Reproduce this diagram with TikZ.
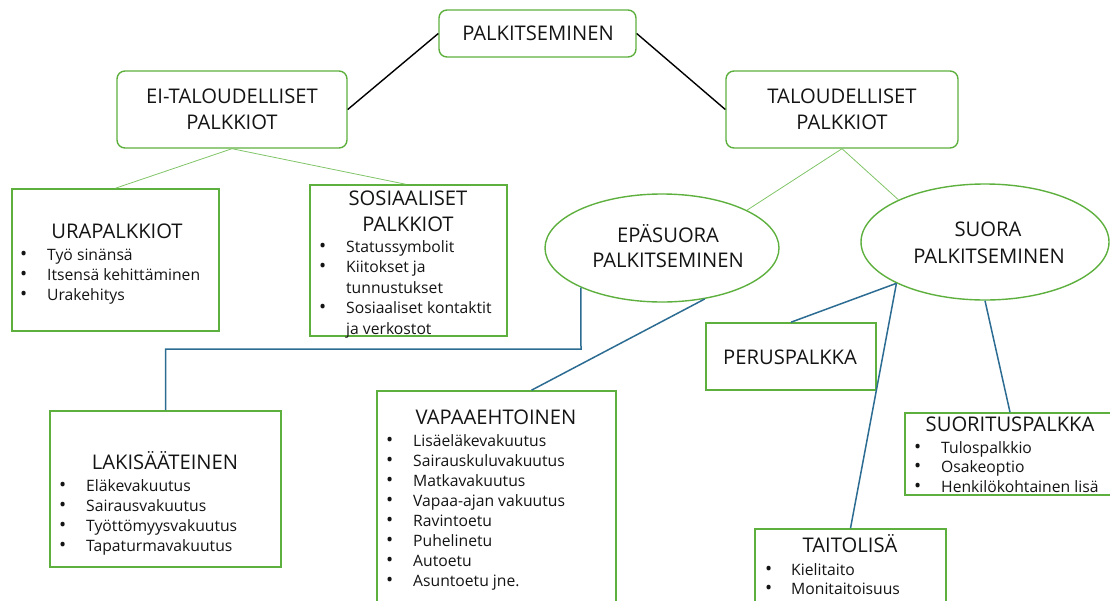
\documentclass[tikz,border=0pt]{standalone}
\usepackage{fontspec}
\setmainfont{Open Sans}
\usetikzlibrary{shapes.geometric,calc}

\definecolor{boxgreen}{RGB}{94,176,62}
\definecolor{linkgreen}{RGB}{128,196,104}
\definecolor{linkblue}{RGB}{44,108,146}

\tikzset{
  roundbox/.style={draw=boxgreen, line width=1.4pt, rounded corners=8pt, inner sep=0pt},
  plainbox/.style={draw=boxgreen, line width=1.6pt, inner sep=0pt},
  oval/.style={ellipse, draw=boxgreen, line width=1.4pt, inner sep=0pt},
  head/.style={anchor=base, inner sep=0pt, font=\fontsize{20.2}{24}\selectfont, text=black!92},
  item/.style={anchor=base west, inner sep=0pt, font=\fontsize{15.7}{19}\selectfont, text=black!92},
  dot/.style={anchor=base west, inner sep=0pt, font=\fontsize{19}{19}\selectfont, text=black!92},
  mainlink/.style={draw=black, line width=1.4pt},
  thinlink/.style={draw=linkgreen, line width=0.8pt},
  bluelink/.style={draw=linkblue, line width=1.5pt},
}

\begin{document}
\begin{tikzpicture}[x=1pt, y=-1pt]
\useasboundingbox (0,0) rectangle (1110,600);
\clip (0,0) rectangle (1110,600);

% --- top levels ---
\node[roundbox, minimum width=197pt, minimum height=47pt] (top) at (537.5,33.5) {};
\node[head] (topT) at (538,40.5) {PALKITSEMINEN};

\node[roundbox, minimum width=230pt, minimum height=77pt] (ei) at (232,109.5) {};
\node[head] (eiA) at (232,103) {EI-TALOUDELLISET};
\node[head] (eiB) at (232,129) {PALKKIOT};

\node[roundbox, minimum width=232pt, minimum height=77pt] (talo) at (842,109.5) {};
\node[head] (taloA) at (842,103) {TALOUDELLISET};
\node[head] (taloB) at (842,129) {PALKKIOT};

% --- non-monetary rewards ---
\node[plainbox, minimum width=207pt, minimum height=142pt] (urap) at (115.5,260) {};
\node[head] (urapT) at (117,238.5) {URAPALKKIOT};
\node[dot] (urapD1) at (20,260) {•};
\node[item] (urapI1) at (47,260) {Työ sinänsä};
\node[dot] (urapD2) at (20,280) {•};
\node[item] (urapI2) at (47,280) {Itsensä kehittäminen};
\node[dot] (urapD3) at (20,300) {•};
\node[item] (urapI3) at (47,300) {Urakehitys};

\node[plainbox, minimum width=197pt, minimum height=151pt] (sos) at (408.5,260.5) {};
\node[head] (sosA) at (408,205.5) {SOSIAALISET};
\node[head] (sosB) at (408,231) {PALKKIOT};
\node[dot] (sosD1) at (319,252.5) {•};
\node[item] (sosI1) at (346,252.5) {Statussymbolit};
\node[dot] (sosD2) at (319,272.5) {•};
\node[item] (sosI2) at (346,272.5) {Kiitokset ja};
\node[item] (sosI2b) at (346,293.5) {tunnustukset};
\node[dot] (sosD3) at (319,313.5) {•};
\node[item] (sosI3) at (346,313.5) {Sosiaaliset kontaktit};
\node[item] (sosI3b) at (346,334.5) {ja verkostot};

% --- indirect / direct rewards ---
\node[oval, minimum width=234pt, minimum height=108pt] (epa) at (662,248) {};
\node[head] (epaA) at (668,242) {EPÄSUORA};
\node[head] (epaB) at (668,267) {PALKITSEMINEN};

\node[oval, minimum width=248pt, minimum height=116pt] (suora) at (985,242) {};
\node[head] (suoraA) at (988,236) {SUORA};
\node[head] (suoraB) at (989,263) {PALKITSEMINEN};

\node[plainbox, minimum width=170pt, minimum height=67pt] (perus) at (791,356.5) {};
\node[head] (perusT) at (790,364) {PERUSPALKKA};

% --- insurance benefits ---
\node[plainbox, minimum width=231pt, minimum height=156pt] (laki) at (165.5,489) {};
\node[head] (lakiT) at (165,469.5) {LAKISÄÄTEINEN};
\node[dot] (lakiD1) at (59,491) {•};
\node[item] (lakiI1) at (86,491) {Eläkevakuutus};
\node[dot] (lakiD2) at (59,511) {•};
\node[item] (lakiI2) at (86,511) {Sairausvakuutus};
\node[dot] (lakiD3) at (59,531) {•};
\node[item] (lakiI3) at (86,531) {Työttömyysvakuutus};
\node[dot] (lakiD4) at (59,551) {•};
\node[item] (lakiI4) at (86,551) {Tapaturmavakuutus};

\node[plainbox, minimum width=239pt, minimum height=220pt] (vapaa) at (496.5,501) {};
\node[head] (vapaaT) at (496,424) {VAPAAEHTOINEN};
\node[dot] (vapaaD1) at (386,446) {•};
\node[item] (vapaaI1) at (413,446) {Lisäeläkevakuutus};
\node[dot] (vapaaD2) at (386,466) {•};
\node[item] (vapaaI2) at (413,466) {Sairauskuluvakuutus};
\node[dot] (vapaaD3) at (386,486) {•};
\node[item] (vapaaI3) at (413,486) {Matkavakuutus};
\node[dot] (vapaaD4) at (386,506) {•};
\node[item] (vapaaI4) at (413,506) {Vapaa-ajan vakuutus};
\node[dot] (vapaaD5) at (386,526) {•};
\node[item] (vapaaI5) at (413,526) {Ravintoetu};
\node[dot] (vapaaD6) at (386,546.5) {•};
\node[item] (vapaaI6) at (413,546.5) {Puhelinetu};
\node[dot] (vapaaD7) at (386,566.5) {•};
\node[item] (vapaaI7) at (413,566.5) {Autoetu};
\node[dot] (vapaaD8) at (386,586.5) {•};
\node[item] (vapaaI8) at (413,586.5) {Asuntoetu jne.};

% --- performance and skill pay ---
\node[plainbox, minimum width=210pt, minimum height=82pt] (suor) at (1010,454) {};
\node[head] (suorT) at (1010,431) {SUORITUSPALKKA};
\node[dot] (suorD1) at (914,453.5) {•};
\node[item] (suorI1) at (941,453.5) {Tulospalkkio};
\node[dot] (suorD2) at (914,472.5) {•};
\node[item] (suorI2) at (941,472.5) {Osakeoptio};
\node[dot] (suorD3) at (914,492) {•};
\node[item] (suorI3) at (941,492) {Henkilökohtainen lisä};

\node[plainbox, minimum width=191pt, minimum height=80pt] (taito) at (850.5,569) {};
\node[head] (taitoT) at (850,552.5) {TAITOLISÄ};
\node[dot] (taitoD1) at (765,575) {•};
\node[item] (taitoI1) at (791,575) {Kielitaito};
\node[dot] (taitoD2) at (765,594.5) {•};
\node[item] (taitoI2) at (791,594.5) {Monitaitoisuus};

% --- connectors ---
\draw[mainlink] (top.west) -- (ei.east);
\draw[mainlink] (top.east) -- (talo.west);

\draw[thinlink] (ei.south) -- (urap.north);
\draw[thinlink] (ei.south) -- ($(sos.north)+(-3,0)$);
\draw[thinlink] (talo.south) -- (epa.24);
\draw[thinlink] (talo.south) -- (suora.154);

\coordinate (elbow) at (581,349);
\draw[bluelink] (epa.206) -- (elbow) -| (laki.north);
\draw[bluelink] (epa.310) -- ($(vapaa.north)+(35,0)$);
\draw[bluelink] (suora.205) -- (perus.north);
\draw[bluelink] (suora.205) -- (taito.north);
\draw[bluelink] (suora.south) -- (suor.north);
\end{tikzpicture}
\end{document}
